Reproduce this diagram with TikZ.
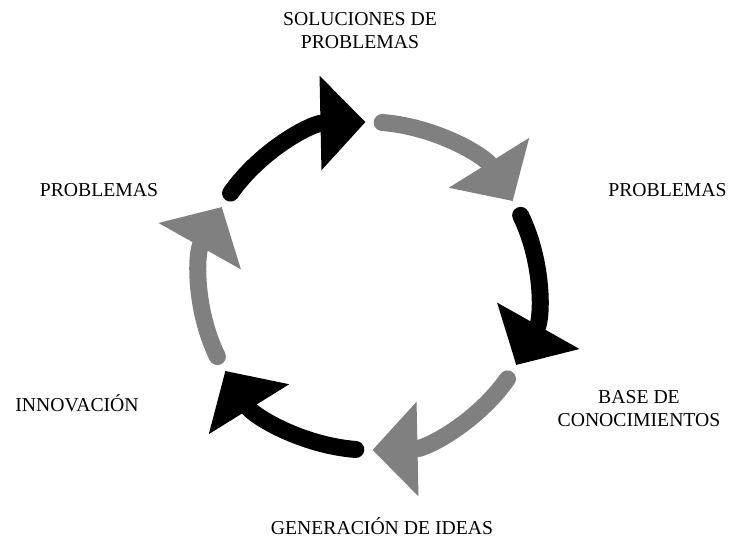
\documentclass[tikz,border=0pt]{standalone}
\usepackage{fontspec}
\setmainfont{Liberation Serif}
\usetikzlibrary{arrows.meta}

\begin{document}
\begin{tikzpicture}[
  cycarrow/.style={line width=17pt, line cap=round, -{Triangle[length=45pt,width=92pt]}},
  lbl/.style={font=\fontsize{19.7pt}{23pt}\selectfont, align=center, inner sep=0pt}]
\useasboundingbox (0,0) rectangle (729pt,538pt);
\coordinate (c) at (369pt,252pt);
\draw[cycarrow,black] (c) ++(145.5:168pt and 164pt) arc[start angle=145.5, end angle=91.2, x radius=168pt, y radius=164pt];
\draw[cycarrow,gray] (c) ++(85.5:168pt and 164pt) arc[start angle=85.5, end angle=31.2, x radius=168pt, y radius=164pt];
\draw[cycarrow,black] (c) ++(25.5:168pt and 164pt) arc[start angle=25.5, end angle=-28.8, x radius=168pt, y radius=164pt];
\draw[cycarrow,gray] (c) ++(-34.5:168pt and 164pt) arc[start angle=-34.5, end angle=-88.8, x radius=168pt, y radius=164pt];
\draw[cycarrow,black] (c) ++(-94.5:168pt and 164pt) arc[start angle=-94.5, end angle=-148.8, x radius=168pt, y radius=164pt];
\draw[cycarrow,gray] (c) ++(-154.5:168pt and 164pt) arc[start angle=-154.5, end angle=-208.8, x radius=168pt, y radius=164pt];
\node[lbl] (sol) at (360pt,507pt) {SOLUCIONES DE\\PROBLEMAS};
\node[lbl,anchor=base] (probr) at (667.5pt,341pt) {PROBLEMAS};
\node[lbl] (base) at (639pt,129pt) {BASE DE\\CONOCIMIENTOS};
\node[lbl,anchor=base] (gen) at (382pt,3pt) {GENERACIÓN DE IDEAS};
\node[lbl,anchor=base] (innov) at (77pt,126pt) {INNOVACIÓN};
\node[lbl,anchor=base] (probl) at (99pt,341pt) {PROBLEMAS};
\end{tikzpicture}
\end{document}
